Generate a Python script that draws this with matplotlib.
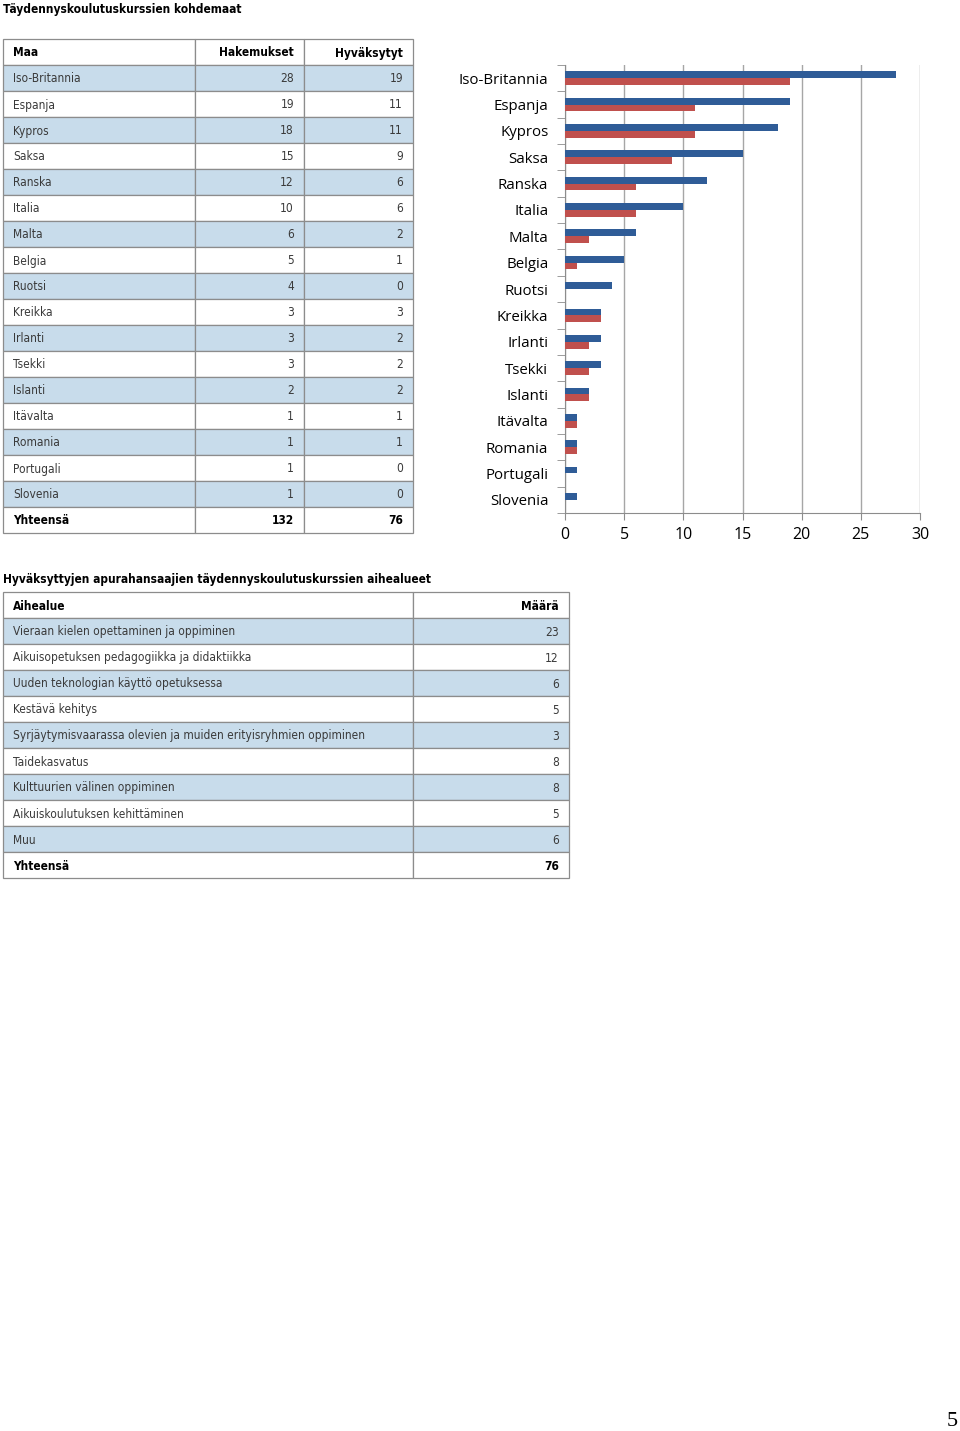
import matplotlib.pyplot as plt
from matplotlib.patches import Rectangle

countries = ["Iso-Britannia", "Espanja", "Kypros", "Saksa", "Ranska", "Italia", "Malta",
             "Belgia", "Ruotsi", "Kreikka", "Irlanti", "Tsekki", "Islanti", "Itävalta",
             "Romania", "Portugali", "Slovenia"]
applications = [28, 19, 18, 15, 12, 10, 6, 5, 4, 3, 3, 3, 2, 1, 1, 1, 1]
accepted = [19, 11, 11, 9, 6, 6, 2, 1, 0, 3, 2, 2, 2, 1, 1, 0, 0]

topics = ["Vieraan kielen opettaminen ja oppiminen",
          "Aikuisopetuksen pedagogiikka ja didaktiikka",
          "Uuden teknologian käyttö opetuksessa",
          "Kestävä kehitys",
          "Syrjäytymisvaarassa olevien ja muiden erityisryhmien oppiminen",
          "Taidekasvatus",
          "Kulttuurien välinen oppiminen",
          "Aikuiskoulutuksen kehittäminen",
          "Muu"]
topic_counts = [23, 12, 6, 5, 3, 8, 8, 5, 6]

BLUE = "#2F5C97"
RED = "#C0504D"
ROW_BLUE = "#C8DCEB"
EDGE = "#8C8C8C"
TFONT = ["DejaVu Sans"]
TSIZE = 8.6

fig = plt.figure(figsize=(9.6, 14.31), dpi=100)

# page-level axes in pixel coordinates for tables and titles
pg = fig.add_axes([0, 0, 1, 1])
pg.set_xlim(0, 960)
pg.set_ylim(1431, 0)
pg.axis("off")


def tx(x, y, s, ha, bold=False):
    pg.text(x, y, s, ha=ha, va="center", fontsize=TSIZE, family=TFONT,
            fontstretch="condensed", color="black" if bold else "#3A3A3A",
            fontweight="bold" if bold else "normal")


def draw_table(top, col_x, header, rows, total, row_h=26):
    allrows = [header] + rows + [total]
    for i, r in enumerate(allrows):
        y = top + i * row_h
        face = ROW_BLUE if (1 <= i <= len(rows) and i % 2 == 1) else "white"
        bold = i == 0 or i == len(allrows) - 1
        for j in range(len(col_x) - 1):
            pg.add_patch(Rectangle((col_x[j], y), col_x[j + 1] - col_x[j], row_h,
                                   facecolor=face, edgecolor=EDGE, lw=0.9))
            if j == 0:
                tx(col_x[j] + 10, y + row_h / 2 + 1, r[j], "left", bold)
            else:
                tx(col_x[j + 1] - 10, y + row_h / 2 + 1, r[j], "right", bold)


tx(3, 9, "Täydennyskoulutuskurssien kohdemaat", "left", True)
rows1 = [[c, str(a), str(b)] for c, a, b in zip(countries, applications, accepted)]
draw_table(39, [3, 195, 304, 413], ["Maa", "Hakemukset", "Hyväksytyt"], rows1,
           ["Yhteensä", str(sum(applications)), str(sum(accepted))])

tx(3, 579, "Hyväksyttyjen apurahansaajien täydennyskoulutuskurssien aihealueet", "left", True)
rows2 = [[t, str(n)] for t, n in zip(topics, topic_counts)]
draw_table(592, [3, 413, 569], ["Aihealue", "Määrä"], rows2,
           ["Yhteensä", str(sum(topic_counts))])

pg.text(958, 1421, "5", ha="right", va="center", fontsize=16, family="Liberation Serif")

# bar chart
H = 1431
ax = fig.add_axes([565 / 960, (H - 513) / H, (920 - 565) / 960, (513 - 65) / H])
pos = list(range(len(countries)))
bh = 0.26
ax.barh([p - bh / 2 for p in pos], applications, height=bh, color=BLUE, zorder=3)
ax.barh([p + bh / 2 for p in pos], accepted, height=bh, color=RED, zorder=3)
ax.set_ylim(len(countries) - 0.5, -0.5)
ax.set_xlim(0, 30)
ax.set_xticks(range(0, 31, 5))
ax.set_yticks(pos)
ax.set_yticklabels(countries, family=["Open Sans", "DejaVu Sans"], fontsize=10.8)
ax.set_yticks([p - 0.5 for p in pos] + [len(countries) - 0.5], minor=True)
ax.tick_params(axis="y", which="major", length=0, pad=12)
ax.tick_params(axis="y", which="minor", length=6, color=EDGE)
ax.tick_params(axis="x", length=5, color=EDGE, labelsize=11.5, pad=5)
for lab in ax.get_xticklabels():
    lab.set_family(["Open Sans", "DejaVu Sans"])
ax.grid(axis="x", color="#A6A6A6", lw=1.0, zorder=0)
for s in ["top", "right"]:
    ax.spines[s].set_visible(False)
for s in ["left", "bottom"]:
    ax.spines[s].set_color(EDGE)

fig.savefig("out.png", dpi=100)
